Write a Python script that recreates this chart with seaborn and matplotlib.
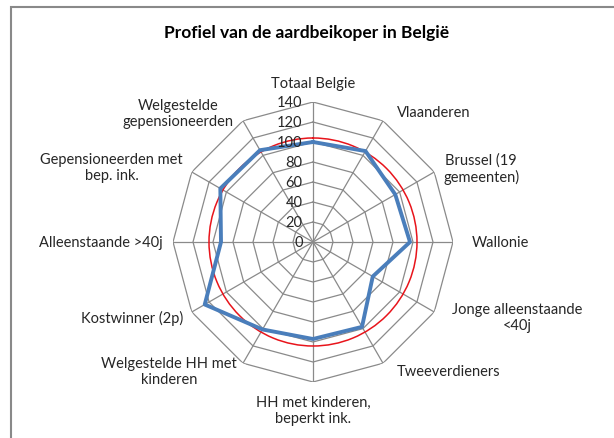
import numpy as np
import matplotlib
matplotlib.use("Agg")
from matplotlib import pyplot as plt
from matplotlib.patches import Rectangle
import pandas as pd
import seaborn as sns

# Data
categories = ["Totaal Belgie", "Vlaanderen", "Brussel (19\ngemeenten)", "Wallonie",
              "Jonge alleenstaande\n<40j", "Tweeverdieners", "HH met kinderen,\nbeperkt ink.",
              "Welgestelde HH met\nkinderen", "Kostwinner (2p)", "Alleenstaande >40j",
              "Gepensioneerden met\nbep. ink.", "Welgestelde\ngepensioneerden"]
index_values = [100, 105, 95, 97, 69, 98, 97, 101, 125, 92, 107, 106]
reference_level = 104
radial_ticks = [0, 20, 40, 60, 80, 100, 120, 140]
title = "Profiel van de aardbeikoper in België"

W, H = 614, 439
sns.set_theme(style="white")
plt.rcParams["font.family"] = ["Lato", "DejaVu Sans"]

n = len(categories)
theta = np.linspace(0, 2 * np.pi, n, endpoint=False)
df = pd.DataFrame({"theta": np.append(theta, 2 * np.pi),
                   "value": index_values + index_values[:1]})

fig = plt.figure(figsize=(W / 100, H / 100), dpi=100)
cx, cy, R = 313, 243, 140
ax = fig.add_axes([(cx - R) / W, (H - cy - R) / H, 2 * R / W, 2 * R / H], projection="polar")
ax.set_theta_zero_location("N")
ax.set_theta_direction(-1)
ax.set_ylim(0, radial_ticks[-1])
ax.grid(False)
ax.spines["polar"].set_visible(False)
ax.set_xticks([])
ax.set_yticks([])
ax.patch.set_alpha(0)

grid_col = "#8a8a8a"
closed = np.append(theta, 2 * np.pi)
# polygon web
for r in radial_ticks[1:]:
    ax.plot(closed, [r] * len(closed), color=grid_col, lw=0.9, zorder=1)
for t in theta:
    ax.plot([t, t], [0, radial_ticks[-1]], color=grid_col, lw=0.9, zorder=1)

# reference circle
ax.axhline(reference_level, color="#e8141b", lw=1.1, zorder=3)

sns.lineplot(data=df, x="theta", y="value", ax=ax, sort=False, color="#4a7ebb",
             lw=2.8, zorder=4)
ax.set_xlabel("")
ax.set_ylabel("")

# radial tick labels
for r in radial_ticks:
    ax.annotate(str(r), xy=(0, r), xytext=(-7.5, 0), textcoords="offset points",
                ha="right", va="center", fontsize=10.5, color="#262626", zorder=5)

# category labels: (dx, dy) offsets in px, horizontal alignment
label_pos = [(0, 19, "center"), (14, 9, "left"), (9, 4, "left"), (19, 0, "left"),
             (18, -5, "left"), (14, -8, "left"), (0, -28, "center"), (-6, -8, "right"),
             (-9, -5, "right"), (-10, 0, "right"), (-9, 5, "right"), (-9, 8, "right")]
for t, lab, (dx, dy, ha) in zip(theta, categories, label_pos):
    ax.annotate(lab, xy=(t, radial_ticks[-1]), xytext=(dx * 0.72, dy * 0.72),
                textcoords="offset points", ha=ha, va="center", multialignment="center",
                fontsize=10.5, color="#262626", linespacing=1.2, annotation_clip=False)

fig.text(0.5, 1 - 33 / H, title, ha="center", va="center", fontsize=12.5,
         fontweight="bold", color="black")

fig.patches.append(Rectangle((11 / W, -0.1), 1.2, 1 - 8 / H + 0.1, transform=fig.transFigure,
                             fill=False, edgecolor="#898989", lw=1.5))

fig.savefig("out.png", dpi=100)
